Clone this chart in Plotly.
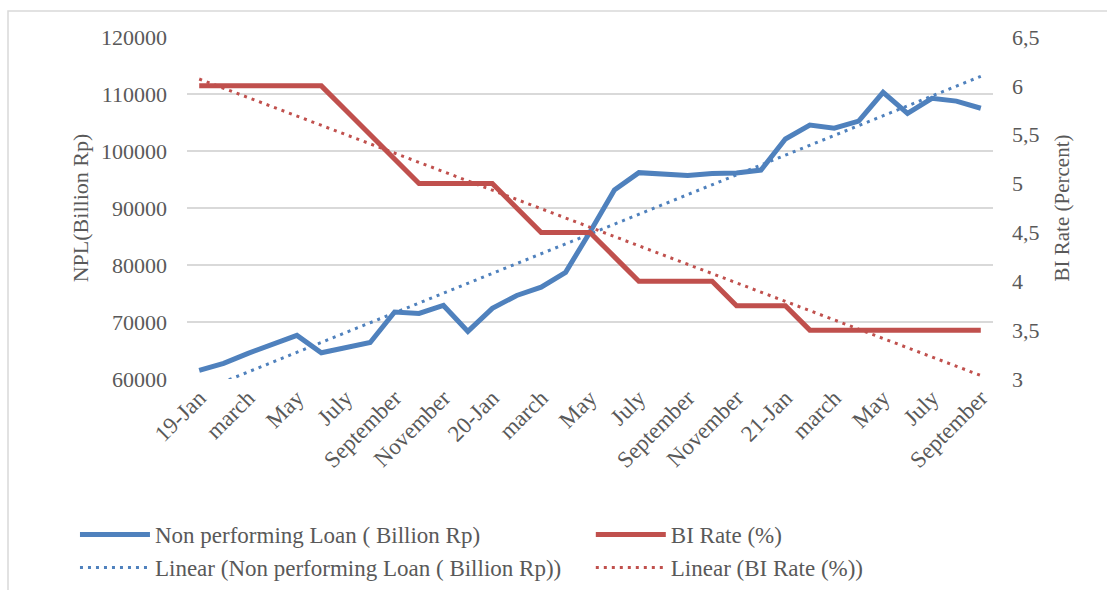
import numpy as np
import plotly.graph_objects as go

# monthly, Jan 2019 .. Sep 2021
months = [
    "19-Jan", "feb", "march", "april", "May", "june", "July", "august", "September", "october",
    "November", "december", "20-Jan", "feb", "march", "april", "May", "june", "July", "august",
    "September", "october", "November", "december", "21-Jan", "feb", "march", "april", "May",
    "june", "July", "august", "September",
]
npl = [
    61500, 62750, 64500, 66150, 67650, 64600, 65550, 66400, 71750, 71500,
    72900, 68350, 72400, 74650, 76100, 78700, 85800, 93150, 96200, 95950,
    95700, 96050, 96150, 96650, 102100, 104550, 104000, 105250, 110300, 106600,
    109250, 108750, 107500,
]
bi_rate = [
    6.0, 6.0, 6.0, 6.0, 6.0, 6.0, 5.75, 5.5, 5.25, 5.0,
    5.0, 5.0, 5.0, 4.75, 4.5, 4.5, 4.5, 4.25, 4.0, 4.0,
    4.0, 4.0, 3.75, 3.75, 3.75, 3.5, 3.5, 3.5, 3.5, 3.5,
    3.5, 3.5, 3.5,
]
tick_labels = months[::2]

COLOR_NPL = "#4f81bd"
COLOR_BI = "#c0504d"
FONT = "Liberation Serif"
GREY = "#595959"
DOTS = "3px,5px"

idx = np.arange(len(months))
# excel style linear trendlines
npl_fit = np.polyval(np.polyfit(idx, npl, 1), idx)
bi_fit = np.polyval(np.polyfit(idx, bi_rate, 1), idx)

fig = go.Figure()
fig.add_trace(go.Scatter(x=idx, y=npl, name="Non performing Loan ( Billion Rp)", legend="legend",
                         mode="lines", line=dict(color=COLOR_NPL, width=5)))
fig.add_trace(go.Scatter(x=idx, y=npl_fit, name="Linear (Non performing Loan ( Billion Rp))",
                         legend="legend", mode="lines",
                         line=dict(color=COLOR_NPL, width=3, dash=DOTS)))
fig.add_trace(go.Scatter(x=idx, y=bi_rate, name="BI Rate (%)", yaxis="y2", legend="legend2",
                         mode="lines", line=dict(color=COLOR_BI, width=5)))
fig.add_trace(go.Scatter(x=idx, y=bi_fit, name="Linear (BI Rate (%))", yaxis="y2",
                         legend="legend2", mode="lines",
                         line=dict(color=COLOR_BI, width=3, dash=DOTS)))

legend_style = dict(
    orientation="v",
    yanchor="top",
    y=-0.392,
    xanchor="left",
    bgcolor="rgba(0,0,0,0)",
    font=dict(family=FONT, size=23, color=GREY),
    itemwidth=70,
    tracegroupgap=0,
)

fig.update_layout(
    width=1107,
    height=590,
    margin=dict(l=187, r=114, t=37, b=211, autoexpand=False),
    paper_bgcolor="white",
    plot_bgcolor="white",
    font=dict(family=FONT, size=22, color=GREY),
    xaxis=dict(
        range=[-0.5, len(months) - 0.5],
        tickmode="array",
        tickvals=idx[::2],
        ticktext=tick_labels,
        tickangle=-45,
        tickfont=dict(size=23),
        showgrid=False,
        zeroline=False,
        showline=False,
        automargin=False,
    ),
    yaxis=dict(
        title=dict(text="NPL(Billion Rp)", standoff=6, font=dict(size=22)),
        range=[60000, 120000],
        dtick=10000,
        gridcolor="#d9d9d9",
        gridwidth=1.5,
        zeroline=False,
        tickformat="d",
        ticklabelstandoff=19,
        automargin=False,
    ),
    yaxis2=dict(
        title=dict(text="BI Rate (Percent)", standoff=15, font=dict(size=21)),
        overlaying="y",
        side="right",
        range=[3, 6.5],
        dtick=0.5,
        showgrid=False,
        zeroline=False,
        tickformat=".1~f",
        ticklabelstandoff=18,
        automargin=False,
    ),
    separators=",.",
    legend=dict(legend_style, x=-0.139),
    legend2=dict(legend_style, x=0.501),
)

# thin outer border of the chart area
fig.add_shape(type="rect", xref="paper", yref="paper",
              x0=(8 - 187) / 806, x1=(1120 - 187) / 806,
              y0=(379 - 600) / 342, y1=(379 - 11) / 342,
              line=dict(color="#d9d9d9", width=1.5), layer="below")

fig.write_html("out.html", config={"displayModeBar": False},
               post_script="document.body.style.margin = '0px';")
